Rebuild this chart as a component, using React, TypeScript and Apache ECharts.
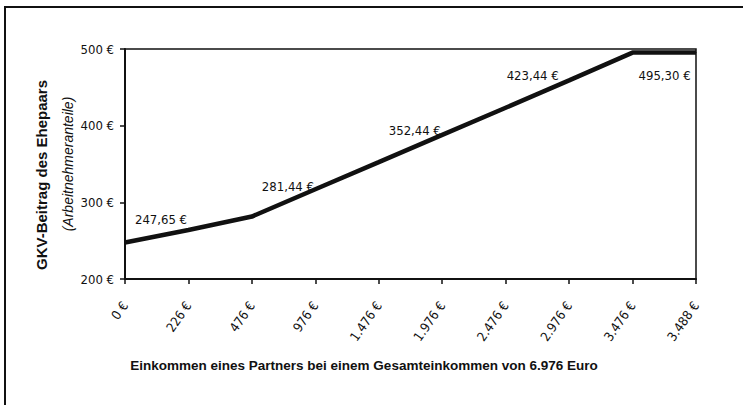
import React, { useEffect, useRef } from "react";
import * as echarts from "echarts";

const categories = ["0 €", "226 €", "476 €", "976 €", "1.476 €", "1.976 €", "2.476 €", "2.976 €", "3.476 €", "3.488 €"];
const values = [247.65, 264, 281.44, 317, 352.44, 388, 423.44, 459, 495.3, 495.3];
const labelTexts = ["247,65 €", "", "281,44 €", "", "352,44 €", "", "423,44 €", "", "495,30 €", ""];
const labelOffsets: [number, number][] = [[36, -11], [0, 0], [36, -18], [0, 0], [36, -20], [0, 0], [27, -20], [0, 0], [32, 35], [0, 0]];
const yTitle = "GKV-Beitrag des Ehepaars";
const ySubTitle = "(Arbeitnehmeranteile)";
const xTitle = "Einkommen eines Partners bei einem Gesamteinkommen von 6.976 Euro";

const narrow = '"Liberation Sans Narrow", "DejaVu Sans Condensed", "Liberation Sans", sans-serif';
const arial = '"Liberation Sans", Arial, sans-serif';

export default function App() {
  const ref = useRef<HTMLDivElement>(null);
  useEffect(() => {
    if (!ref.current) return;
    const chart = echarts.init(ref.current, null, { renderer: "svg" });
    const data = values.map((v, i) => ({
      value: v,
      label: { offset: labelOffsets[i] },
    }));
    chart.setOption({
      animation: false,
      backgroundColor: "#ffffff",
      grid: {
        left: 125,
        right: 47,
        top: 49,
        bottom: 126,
        show: true,
        borderColor: "#111",
        borderWidth: 1.5,
        containLabel: false,
      },
      xAxis: {
        type: "category",
        data: categories,
        boundaryGap: false,
        axisLine: { show: true, lineStyle: { color: "#111", width: 2 } },
        axisTick: { show: true, length: 5, lineStyle: { color: "#111", width: 1.5 } },
        axisLabel: {
          rotate: 55,
          interval: 0,
          color: "#111",
          fontFamily: narrow,
          fontSize: 13,
          margin: 24,
        },
        splitLine: { show: false },
      },
      yAxis: {
        type: "value",
        min: 200,
        max: 500,
        interval: 100,
        axisLine: { show: true, lineStyle: { color: "#111", width: 2 } },
        axisTick: { show: true, length: 5, lineStyle: { color: "#111", width: 1.5 } },
        axisLabel: {
          color: "#111",
          fontFamily: narrow,
          fontSize: 13,
          margin: 11,
          formatter: (v: number) => `${v} €`,
        },
        splitLine: { show: false },
      },
      series: [
        {
          type: "line",
          data,
          symbol: "circle",
          symbolSize: 1,
          showSymbol: true,
          showAllSymbol: true,
          itemStyle: { color: "#111" },
          lineStyle: { color: "#111", width: 4.5 },
          label: {
            show: true,
            position: "top",
            color: "#111",
            fontFamily: narrow,
            fontSize: 13,
            formatter: (p: any) => labelTexts[p.dataIndex],
          },
        },
      ],
      graphic: [
        {
          type: "rect",
          shape: { x: 5, y: 7, width: 800, height: 500 },
          style: { fill: "none", stroke: "#111", lineWidth: 2 },
          silent: true,
        },
        {
          type: "text",
          x: 41,
          y: 175,
          rotation: Math.PI / 2,
          style: {
            text: yTitle,
            fill: "#111",
            font: `bold 15px ${arial}`,
            align: "center",
            verticalAlign: "middle",
          },
        },
        {
          type: "text",
          x: 68,
          y: 164,
          rotation: Math.PI / 2,
          style: {
            text: ySubTitle,
            fill: "#111",
            font: `italic 14px ${arial}`,
            align: "center",
            verticalAlign: "middle",
          },
        },
        {
          type: "text",
          x: 364,
          y: 365,
          style: {
            text: xTitle,
            fill: "#111",
            font: `bold 13.5px ${arial}`,
            align: "center",
            verticalAlign: "middle",
          },
        },
      ],
    });
    return () => chart.dispose();
  }, []);
  return (
    <div
      ref={ref}
      style={{ position: "fixed", left: 0, top: 0, width: 743, height: 405 }}
    />
  );
}
